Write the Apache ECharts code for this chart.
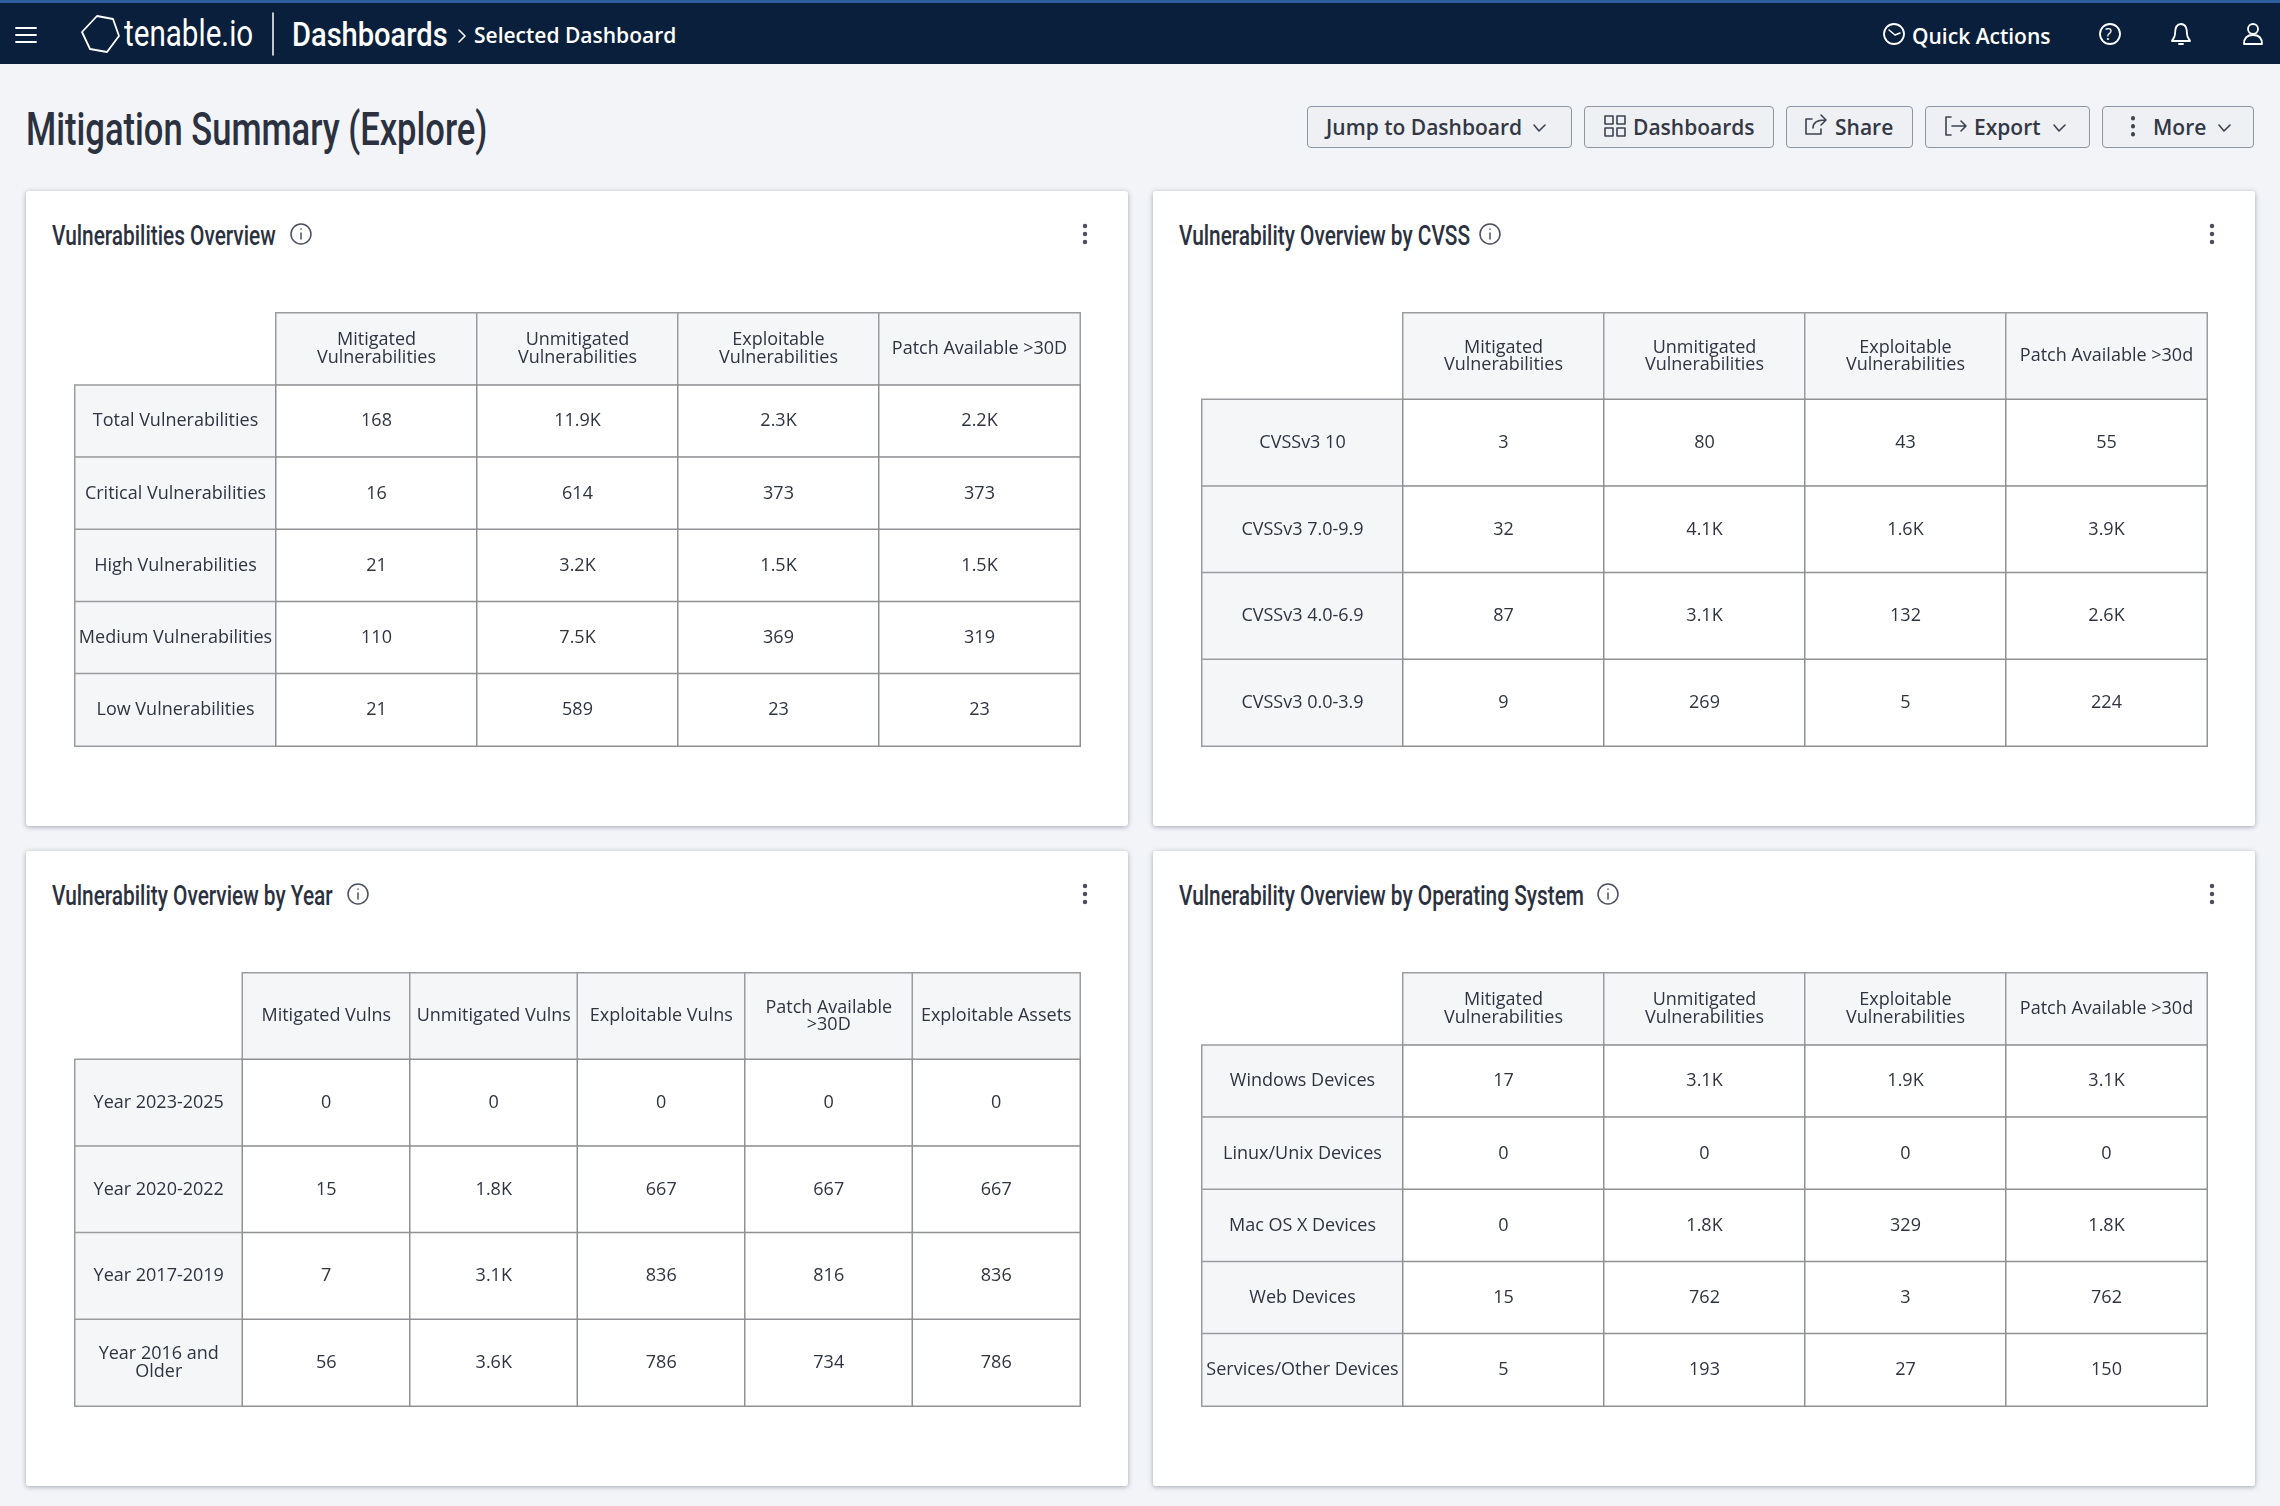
<!DOCTYPE html>
<html>
<head>
<meta charset="utf-8">
<title>Mitigation Summary (Explore)</title>
<style>
html,body{margin:0;padding:0;width:2280px;height:1506px;overflow:hidden;background:#f2f4f8;font-family:"Open Sans","Noto Sans",sans-serif;color:#2c3140}
.abs{position:absolute;white-space:nowrap}
#topbar{position:absolute;left:0;top:0;width:2280px;height:64px;background:#0a1f3c;border-top:3px solid #2f5f9e;box-sizing:border-box}
.narrow{font-family:"Roboto",sans-serif;transform-origin:left center}
.bar{color:#fff}
h1{margin:0;font-size:47px;font-weight:500;color:#2c3140;left:26px;top:101px;transform:scaleX(.735)}
.btn{position:absolute;top:106px;height:42px;box-sizing:border-box;border:1.5px solid #8e95a5;border-radius:4px;background:#eff0f3;font-size:21px;font-weight:600;line-height:40px;color:#333845;white-space:nowrap}
.btn span{position:absolute;top:0}
.card{position:absolute;background:#fff;border-radius:3px;box-shadow:0 1px 5px rgba(40,50,70,.4)}
.card h2{position:absolute;margin:0;left:25.5px;top:29px;font-size:27px;font-weight:500;white-space:nowrap;color:#2c3140;transform:scaleX(.772)}
.chart{position:absolute;left:47.5px;top:120.5px;width:1007px;height:434.5px}
svg{position:absolute;fill:none;stroke-linecap:round;stroke-linejoin:round}
</style>
</head>
<body>
<div id="topbar"></div>
<svg style="left:0;top:0" width="2280" height="64" stroke="#fff" stroke-width="1.8">
    <!-- menu -->
    <path d="M16 28H36M16 35H36M16 42H36"/>
    <!-- logo -->
    <path d="M97 16L113 19L119 36L107 52L90 49L82 32Z"/>
    <path d="M273 13V55" stroke-width="1.5"/>
    <path d="M459 30L465 36L459 42" stroke-width="1.5"/>
    <!-- quick actions, help, bell, user -->
    <circle cx="1894" cy="34" r="10"/><path d="M1889 30L1895 35L1900 33" stroke-width="1.5"/>
    <circle cx="2110" cy="34" r="10"/>
    <path d="M2181 24C2176 24 2175 29 2175 34C2175 38 2172 40 2172 41H2190C2190 40 2187 38 2187 34C2187 29 2186 24 2181 24ZM2179 44H2183"/>
    <circle cx="2253" cy="29" r="5"/><path d="M2244 44C2244 37 2248 35 2253 35C2258 35 2262 37 2262 44Z"/>
</svg>
<div class="abs bar narrow" style="left:124px;top:12px;font-size:37px;line-height:44px;transform:scaleX(.80)">tenable.io</div>
<div class="abs bar narrow" style="left:292px;top:14px;font-size:34px;line-height:40px;font-weight:500;transform:scaleX(.855)">Dashboards</div>
<div class="abs bar" style="left:474px;top:20px;font-size:21px;line-height:30px;font-weight:600">Selected Dashboard</div>
<div class="abs bar" style="left:1912px;top:21px;font-size:21px;line-height:30px;font-weight:600">Quick Actions</div>
<div class="abs bar" style="left:2105px;top:22px;font-size:16px;line-height:24px">?</div>

<h1 class="abs narrow">Mitigation Summary (Explore)</h1>

<div class="btn" style="left:1307px;width:265px"><span style="left:18px">Jump to Dashboard</span></div>
<div class="btn" style="left:1584px;width:190px"><span style="left:48px">Dashboards</span></div>
<div class="btn" style="left:1786px;width:127px"><span style="left:48px">Share</span></div>
<div class="btn" style="left:1925px;width:165px"><span style="left:48px">Export</span></div>
<div class="btn" style="left:2102px;width:152px"><span style="left:50px">More</span></div>
<svg style="left:0;top:100px" width="2280" height="54" stroke="#3d4352" stroke-width="1.6">
    <path d="M1534 25L1539 31L1545 25M2054 25L2059 31L2065 25M2219 25L2224 31L2230 25"/>
    <path d="M1605 16h8v8h-8zM1617 16h8v8h-8zM1605 28h8v8h-8zM1617 28h8v8h-8z"/>
    <path d="M1812 19h-6v15h15v-5M1813 28C1813 22 1817 20 1825 20M1821 15l5 5l-5 5"/>
    <path d="M1951 17h-5v18h5M1952 26h14M1961 21l5 5l-5 5"/>
    <path d="M2133 18v.5M2133 26v.5M2133 34v.5" stroke-width="4"/>
</svg>

<div class="card" style="left:26px;top:191px;width:1102px;height:635px">
    <h2 class="narrow">Vulnerabilities Overview</h2>
    <div id="t1" class="chart"></div>
</div>
<div class="card" style="left:1153px;top:191px;width:1102px;height:635px">
    <h2 class="narrow">Vulnerability Overview by CVSS</h2>
    <div id="t2" class="chart"></div>
</div>
<div class="card" style="left:26px;top:851px;width:1102px;height:635px">
    <h2 class="narrow">Vulnerability Overview by Year</h2>
    <div id="t3" class="chart"></div>
</div>
<div class="card" style="left:1153px;top:851px;width:1102px;height:635px">
    <h2 class="narrow">Vulnerability Overview by Operating System</h2>
    <div id="t4" class="chart"></div>
</div>
<svg style="left:0;top:0" width="2280" height="1506" stroke="#4a5060" stroke-width="1.5">
    <g id="infos"></g>
    <g id="dots" stroke-width="4.5"></g>
</svg>

<script src="https://cdn.jsdelivr.net/npm/echarts@6/dist/echarts.min.js"></script>
<script type="text/javascript">
    var vulnCols = ['Mitigated\nVulnerabilities', 'Unmitigated\nVulnerabilities', 'Exploitable\nVulnerabilities', 'Patch Available >30D'];
    var vulnCols2 = ['Mitigated\nVulnerabilities', 'Unmitigated\nVulnerabilities', 'Exploitable\nVulnerabilities', 'Patch Available >30d'];

    var tables = {
        t1: {
            cols: vulnCols,
            rows: ['Total Vulnerabilities', 'Critical Vulnerabilities', 'High Vulnerabilities', 'Medium Vulnerabilities', 'Low Vulnerabilities'],
            data: [
                [168, 11900, 2300, 2200],
                [16, 614, 373, 373],
                [21, 3200, 1500, 1500],
                [110, 7500, 369, 319],
                [21, 589, 23, 23]
            ]
        },
        t2: {
            cols: vulnCols2,
            rows: ['CVSSv3 10', 'CVSSv3 7.0-9.9', 'CVSSv3 4.0-6.9', 'CVSSv3 0.0-3.9'],
            data: [
                [3, 80, 43, 55],
                [32, 4100, 1600, 3900],
                [87, 3100, 132, 2600],
                [9, 269, 5, 224]
            ]
        },
        t3: {
            cols: ['Mitigated Vulns', 'Unmitigated Vulns', 'Exploitable Vulns', 'Patch Available\n>30D', 'Exploitable Assets'],
            rows: ['Year 2023-2025', 'Year 2020-2022', 'Year 2017-2019', 'Year 2016 and\nOlder'],
            data: [
                [0, 0, 0, 0, 0],
                [15, 1800, 667, 667, 667],
                [7, 3100, 836, 816, 836],
                [56, 3600, 786, 734, 786]
            ]
        },
        t4: {
            cols: vulnCols2,
            rows: ['Windows Devices', 'Linux/Unix Devices', 'Mac OS X Devices', 'Web Devices', 'Services/Other Devices'],
            data: [
                [17, 3100, 1900, 3100],
                [0, 0, 0, 0],
                [0, 1800, 329, 1800],
                [15, 762, 3, 762],
                [5, 193, 27, 150]
            ]
        }
    };

    var fmt = function (n) {
        return n >= 1000 ? (n / 1000).toFixed(1) + 'K' : String(n);
    };

    // each table is one heatmap, first row and first column are the headers
    var drawTable = function (id) {
        var t = tables[id];
        var xData = [''].concat(t.cols);
        var yData = [''].concat(t.rows);
        var cells = [];
        var headStyle = {color: '#f5f6f8', borderColor: '#9a9c9f', borderWidth: 1.5};
        var bodyStyle = {color: '#ffffff', borderColor: '#8f9194', borderWidth: 1.5};

        t.cols.forEach(function (c, i) {
            cells.push({value: [i + 1, 0, 0], itemStyle: headStyle});
        });
        t.rows.forEach(function (r, j) {
            cells.push({value: [0, j + 1, 0], itemStyle: headStyle});
            t.data[j].forEach(function (v, i) {
                cells.push({value: [i + 1, j + 1, v], itemStyle: bodyStyle});
            });
        });

        var chart = echarts.init(document.getElementById(id));
        chart.setOption({
            animation: false,
            grid: {left: 1, right: 1, top: 1, bottom: 1},
            xAxis: {type: 'category', show: false, data: xData},
            yAxis: {type: 'category', show: false, inverse: true, data: yData},
            series: [{
                type: 'heatmap',
                data: cells,
                label: {
                    show: true,
                    fontFamily: 'Open Sans',
                    fontSize: 18,
                    lineHeight: 17.5,
                    color: '#2f3441',
                    formatter: function (p) {
                        var x = p.value[0], y = p.value[1];
                        if (y === 0) return xData[x];
                        if (x === 0) return yData[y];
                        return fmt(p.value[2]);
                    }
                },
                emphasis: {disabled: true}
            }]
        });
    };

    ['t1', 't2', 't3', 't4'].forEach(drawTable);

    // small card icons
    var infos = [[301, 234], [1490, 234], [358, 894], [1608, 894]];
    var dots = [[1085, 234], [2212, 234], [1085, 894], [2212, 894]];
    var ns = 'http://www.w3.org/2000/svg';
    var add = function (parent, tag, attrs) {
        var el = document.createElementNS(ns, tag);
        for (var k in attrs) el.setAttribute(k, attrs[k]);
        document.getElementById(parent).appendChild(el);
    };
    infos.forEach(function (p) {
        add('infos', 'circle', {cx: p[0], cy: p[1], r: 10});
        add('infos', 'path', {d: 'M' + p[0] + ' ' + (p[1] - 1) + 'v6M' + p[0] + ' ' + (p[1] - 5) + 'v.3'});
    });
    dots.forEach(function (p) {
        add('dots', 'path', {d: 'M' + p[0] + ' ' + (p[1] - 8) + 'v.1M' + p[0] + ' ' + p[1] + 'v.1M' + p[0] + ' ' + (p[1] + 8) + 'v.1'});
    });
</script>
</body>
</html>
